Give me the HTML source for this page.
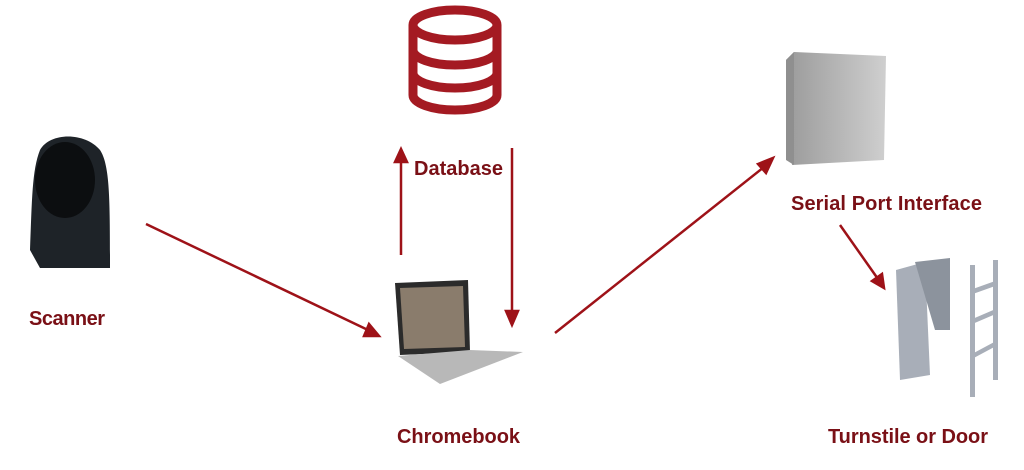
<!DOCTYPE html>
<html><head><meta charset="utf-8"><style>
html,body{margin:0;padding:0;background:#fff;width:1024px;height:470px;overflow:hidden}
svg{display:block}
text{font-family:"Liberation Sans",sans-serif;font-weight:bold;fill:#7a1016;font-size:20px}
</style></head><body>
<svg width="1024" height="470" viewBox="0 0 1024 470">
<defs>
<linearGradient id="g" x1="0" x2="1"><stop offset="0" stop-color="#9a9a9a"/><stop offset="1" stop-color="#cfcfcf"/></linearGradient>
</defs>
<!-- database -->
<g fill="none" stroke="#a41a22" stroke-width="9">
<ellipse cx="455" cy="25" rx="42" ry="15"/>
<path d="M413,25 V95 A42,15 0 0 0 497,95 V25"/>
<path d="M413,50 A42,15 0 0 0 497,50"/>
<path d="M413,73 A42,15 0 0 0 497,73"/>
</g>
<!-- arrows -->
<g stroke="#9e1218" stroke-width="2.5" fill="#9e1218">
<line x1="401" y1="255" x2="401" y2="160"/><path d="M395,162 L401,149 L407,162z"/>
<line x1="512" y1="148" x2="512" y2="313"/><path d="M506,311 L512,325 L518,311z"/>
<line x1="146" y1="224" x2="368" y2="330"/><path d="M364,336 L379,336 L369,324z"/>
<line x1="555" y1="333" x2="764" y2="167"/><path d="M758,164 L773,158 L766,173z"/>
<line x1="840" y1="225" x2="878" y2="279"/><path d="M872,281 L884,288 L882,274z"/>
</g>
<!-- scanner -->
<path d="M30,250 C32,200 32,170 40,150 C50,132 85,132 100,150 C110,165 110,200 110,268 L40,268 Z" fill="#1e2328"/>
<ellipse cx="65" cy="180" rx="30" ry="38" fill="#0c0e10"/>
<!-- laptop -->
<path d="M395,283 L468,280 L470,352 L400,355 Z" fill="#2b2b2b"/>
<path d="M400,288 L463,286 L465,347 L404,349 Z" fill="#8a7c6c"/>
<path d="M398,356 L470,350 L523,352 L440,384 Z" fill="#b8b8b8"/>
<!-- box -->
<path d="M786,60 L794,52 L886,56 L884,160 L792,165 Z" fill="url(#g)"/>
<path d="M786,60 L794,52 L794,165 L786,160Z" fill="#8f8f8f"/>
<!-- turnstile -->
<g fill="#a8aeb8">
<path d="M896,270 L925,262 L930,375 L900,380Z"/>
<path d="M915,262 L950,258 L950,330 L935,330Z" fill="#8c939d"/>
<rect x="970" y="265" width="5" height="132"/><rect x="993" y="260" width="5" height="120"/>
<path d="M970,290 L998,280 L998,285 L970,295Z M970,320 L998,308 L998,313 L970,325Z M970,355 L998,340 L998,345 L970,360Z"/>
</g>
<text x="414" y="175" textLength="89">Database</text>
<text x="29" y="325" textLength="76">Scanner</text>
<text x="397" y="443" textLength="123">Chromebook</text>
<text x="791" y="210" textLength="191">Serial Port Interface</text>
<text x="828" y="443" textLength="160">Turnstile or Door</text>
</svg>
</body></html>
